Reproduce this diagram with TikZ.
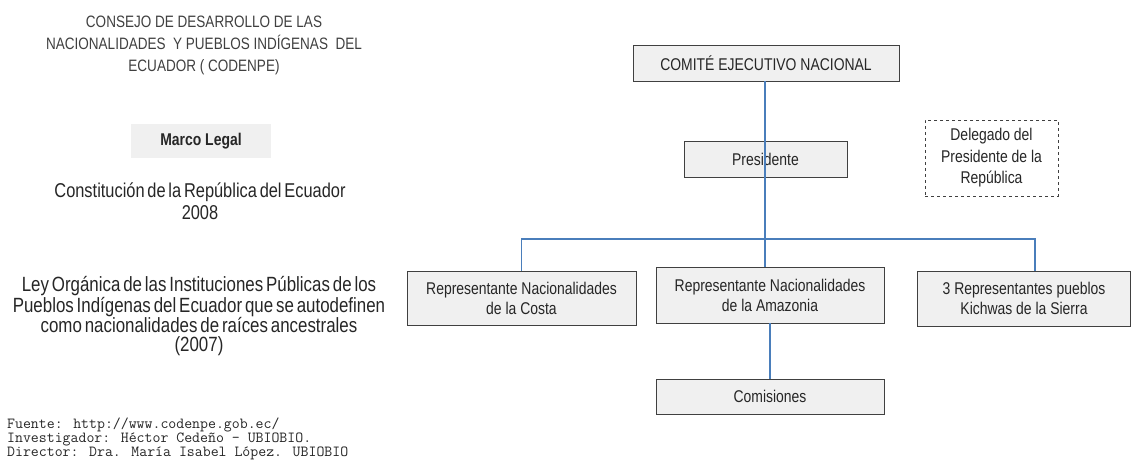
\documentclass[tikz,border=0pt]{standalone}
\usepackage{fontspec}
\setmainfont{Liberation Sans}[FakeStretch=0.82]
\newcommand\tightsp{\spaceskip=0.14em plus 0.05em\relax}
\begin{document}
\begin{tikzpicture}[x=1pt,y=-1pt]
\definecolor{boxfill}{HTML}{F0F0F0}
\definecolor{boxline}{HTML}{404040}
\definecolor{conncol}{HTML}{4A7EBB}
\definecolor{txt}{HTML}{262626}
\tikzset{
  orgbox/.style={draw=boxline, line width=0.9pt, fill=boxfill, inner sep=0pt, align=center,
     text=txt, font=\fontsize{17}{20}\selectfont},
  dashbox/.style={draw=boxline, dashed, line width=0.8pt, inner sep=0pt, align=center,
     text=txt, font=\fontsize{17}{21.5}\selectfont},
  conn/.style={draw=conncol, line width=1.3pt},
  plain/.style={inner sep=0pt, align=center, text=txt}
}
\useasboundingbox (0,0) rectangle (1132,462);
% left column
\node[plain, text=black!75, font=\fontsize{16.5}{22}\selectfont] (title) at (204,45)
  {CONSEJO DE DESARROLLO DE LAS\\NACIONALIDADES \ Y PUEBLOS IND\'IGENAS \ DEL\\ECUADOR ( CODENPE)};
\node[fill=boxfill, inner sep=0pt, minimum width=140pt, minimum height=34pt,
  font=\fontsize{17}{20}\selectfont\bfseries, text=txt] (marco) at (201,141) {Marco Legal};
\node[plain, font=\fontsize{20}{22}\selectfont\tightsp] (const) at (200,201)
  {Constituci\'on de la Rep\'ublica del Ecuador\\2008};
\node[plain, font=\fontsize{20.6}{18.5}\selectfont\tightsp] (ley) at (199,316)
  {Ley Org\'anica de las Instituciones P\'ublicas de los\\Pueblos Ind\'igenas del Ecuador que se autodefinen\\como nacionalidades de ra\'ices ancestrales\\(2007)};
\node[inner sep=0pt, anchor=north west, align=left, text=black!85,
  font=\ttfamily\fontsize{15.4}{14}\selectfont] (fuente) at (7,418)
  {Fuente: http://www.codenpe.gob.ec/\\Investigador: H\'ector Cede\~no \textendash{} UBIOBIO.\\Director: Dra. Mar\'ia Isabel L\'opez. UBIOBIO};
% org chart
\node[orgbox, minimum width=266pt, minimum height=36pt] (cen) at (766,63) {COMIT\'E EJECUTIVO NACIONAL};
\node[orgbox, minimum width=163pt, minimum height=36pt] (pres) at (765.5,159) {Presidente};
\node[dashbox, minimum width=133pt, minimum height=76pt] (deleg) at (991.5,158) {Delegado del\\Presidente de la\\Rep\'ublica};
\node[orgbox, minimum width=229pt, minimum height=54pt] (costa) at (521.5,298) {Representante Nacionalidades\\de la Costa};
\node[orgbox, minimum width=228pt, minimum height=56pt] (amaz) at (770,295) {Representante Nacionalidades\\de la Amazonia};
\node[orgbox, minimum width=213pt, minimum height=55pt] (sierra) at (1024,298.5) {3 Representantes pueblos\\Kichwas de la Sierra};
\node[orgbox, minimum width=228pt, minimum height=35pt] (comis) at (770,396.5) {Comisiones};
\coordinate (bus) at (765,239);
\coordinate (busR) at (1035,239);
\draw[conn] (cen.south -| bus) -- (pres.south -| bus);
\draw[conn] (pres.south -| bus) -- (bus);
\draw[conn] (costa.north) |- (busR) -- (busR |- sierra.north);
\draw[conn] (bus) -- (amaz.north -| bus);
\draw[conn] (amaz.south) -- (comis.north);
\end{tikzpicture}
\end{document}
